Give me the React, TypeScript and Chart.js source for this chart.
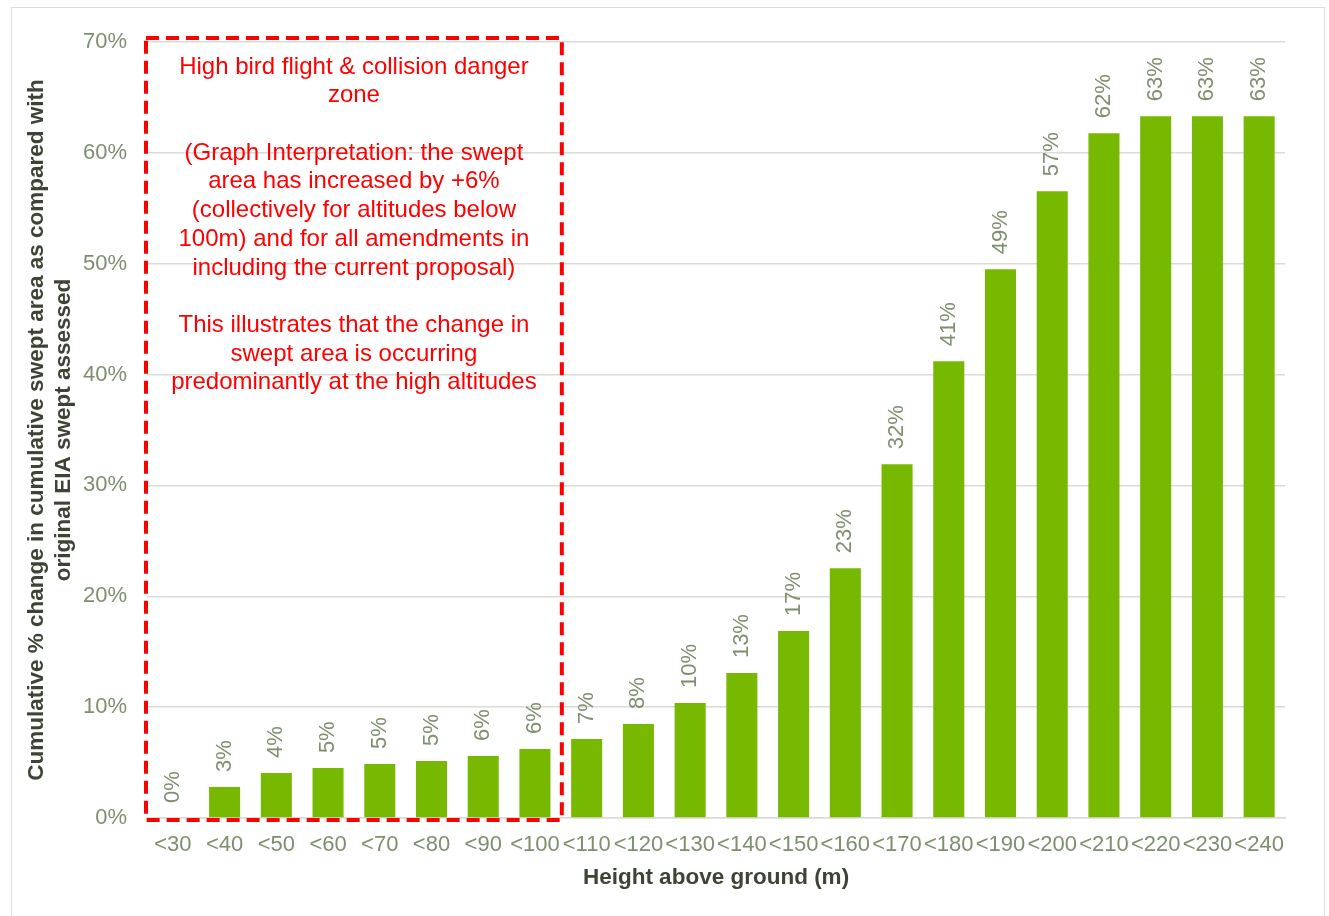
import React, { useEffect, useRef } from "react";
import { Chart, registerables } from "chart.js";

Chart.register(...registerables);

const categories = ["<30", "<40", "<50", "<60", "<70", "<80", "<90", "<100", "<110", "<120", "<130", "<140", "<150", "<160", "<170", "<180", "<190", "<200", "<210", "<220", "<230", "<240"];
const values = [0, 2.8, 4.06, 4.5, 4.87, 5.14, 5.59, 6.22, 7.12, 8.48, 10.37, 13.07, 16.86, 22.54, 31.92, 41.2, 49.5, 56.54, 61.77, 63.3, 63.3, 63.3];
const valueLabels = ["0%", "3%", "4%", "5%", "5%", "5%", "6%", "6%", "7%", "8%", "10%", "13%", "17%", "23%", "32%", "41%", "49%", "57%", "62%", "63%", "63%", "63%"];
const zoneLastIndex = 7;
const zoneText = [
  "High bird flight & collision danger",
  "zone",
  "",
  "(Graph Interpretation: the swept",
  "area has increased by +6%",
  "(collectively for altitudes below",
  "100m) and for all amendments in",
  "including the current proposal)",
  "",
  "This illustrates that the change in",
  "swept area is occurring",
  "predominantly at the high altitudes",
];
const yTitleLines = ["Cumulative % change in cumulative swept area as compared with", "original EIA swept assessed"];
const xTitle = "Height above ground (m)";

const FONT = "'Liberation Sans', Arial, Helvetica, sans-serif";
const TICK_COLOR = "#7e8f70";
const TITLE_COLOR = "#3d4435";
const BAR_COLOR = "#77b800";
const GRID_COLOR = "#d9dcd6";

const overlayPlugin = {
  id: "overlay",
  afterDatasetsDraw(chart: any) {
    const ctx = chart.ctx;
    const xs = chart.scales.x;
    const ys = chart.scales.y;
    const meta = chart.getDatasetMeta(0);
    // data labels
    ctx.save();
    ctx.fillStyle = TICK_COLOR;
    ctx.font = `22px ${FONT}`;
    ctx.textAlign = "left";
    ctx.textBaseline = "middle";
    meta.data.forEach((bar: any, i: number) => {
      ctx.save();
      ctx.translate(bar.x, bar.y - 15);
      ctx.rotate(-Math.PI / 2);
      ctx.fillText(valueLabels[i], 0, 0);
      ctx.restore();
    });
    ctx.restore();

    // red dashed zone
    const catW = xs.width / categories.length;
    const left = xs.left - 1;
    const right = xs.getPixelForValue(zoneLastIndex) + catW / 2 + 1;
    const top = ys.getPixelForValue(70) - 4;
    const bottom = ys.bottom + 2;
    ctx.save();
    ctx.strokeStyle = "#ff0000";
    ctx.lineWidth = 4;
    ctx.setLineDash([13, 7]);
    ctx.strokeRect(left, top, right - left, bottom - top);
    ctx.restore();

    ctx.save();
    ctx.fillStyle = "#ff0000";
    ctx.font = `24px ${FONT}`;
    ctx.textAlign = "center";
    ctx.textBaseline = "middle";
    const cx = (left + right) / 2;
    zoneText.forEach((line, i) => {
      if (line) ctx.fillText(line, cx, top + 29 + i * 28.7);
    });
    ctx.restore();

    // axis titles
    ctx.save();
    ctx.fillStyle = TITLE_COLOR;
    ctx.font = `bold 22.5px ${FONT}`;
    ctx.textAlign = "center";
    ctx.textBaseline = "middle";
    const ymid = (ys.top + ys.bottom) / 2;
    ctx.save();
    ctx.translate(37, ymid);
    ctx.rotate(-Math.PI / 2);
    ctx.fillText(yTitleLines[0], 0, 0);
    ctx.restore();
    ctx.save();
    ctx.translate(64, ymid);
    ctx.rotate(-Math.PI / 2);
    ctx.fillText(yTitleLines[1], 0, 0);
    ctx.restore();
    ctx.fillText(xTitle, (xs.left + xs.right) / 2, 878);
    ctx.restore();
  },
};

export default function App() {
  const ref = useRef<HTMLCanvasElement>(null);
  useEffect(() => {
    document.body.style.margin = "0";
    const chart = new Chart(ref.current!, {
      type: "bar",
      data: {
        labels: categories,
        datasets: [
          {
            data: values,
            backgroundColor: BAR_COLOR,
            borderWidth: 0,
            barPercentage: 0.6,
            categoryPercentage: 1,
          },
        ],
      },
      options: {
        animation: false,
        responsive: false,
        maintainAspectRatio: false,
        layout: { padding: { top: 42, right: 44, left: 0, bottom: 0 } },
        plugins: { legend: { display: false }, tooltip: { enabled: false } },
        scales: {
          x: {
            grid: { display: false, drawTicks: false },
            border: { display: true, color: GRID_COLOR, width: 1.5 },
            ticks: {
              color: TICK_COLOR,
              font: { family: FONT, size: 22 },
              padding: 14,
              maxRotation: 0,
              minRotation: 0,
              autoSkip: false,
            },
            afterFit(scale: any) {
              scale.height = 98;
            },
          },
          y: {
            min: 0,
            max: 70,
            grid: { color: GRID_COLOR, lineWidth: 1.5, drawTicks: false },
            border: { display: false },
            ticks: {
              stepSize: 10,
              color: TICK_COLOR,
              font: { family: FONT, size: 22 },
              padding: 20,
              callback: (v: any) => `${v}%`,
            },
            afterFit(scale: any) {
              scale.width = 147;
            },
          },
        },
      },
      plugins: [overlayPlugin],
    });
    return () => chart.destroy();
  }, []);
  return (
    <div style={{ position: "relative", width: 1329, height: 916, background: "#fff", overflow: "hidden" }}>
      <div
        style={{
          position: "absolute",
          left: 11,
          top: 7,
          width: 1314,
          height: 920,
          border: "1.5px solid #dcdcdc",
          boxSizing: "border-box",
        }}
      />
      <canvas ref={ref} width={1329} height={916} style={{ position: "absolute", left: 0, top: 0 }} />
    </div>
  );
}
